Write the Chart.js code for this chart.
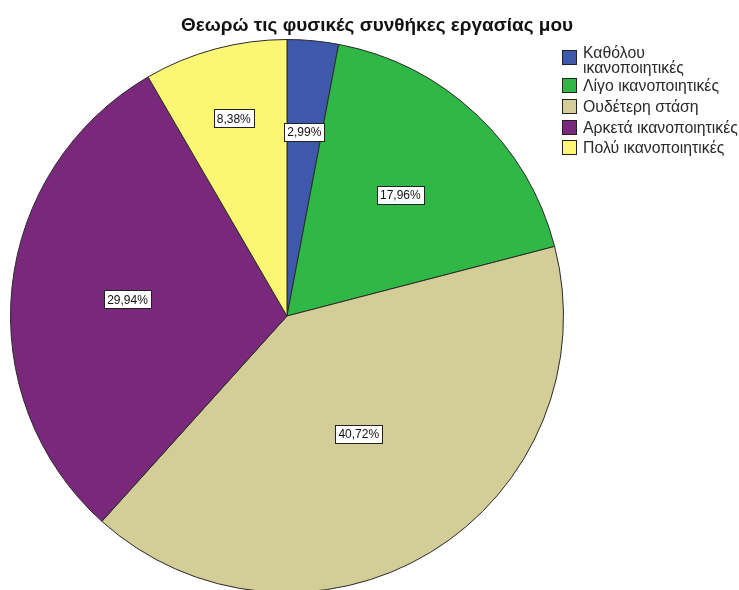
<!DOCTYPE html>
<html>
<head>
<meta charset="utf-8">
<script src="https://cdn.jsdelivr.net/npm/chart.js@4"></script>
<style>
  html, body { margin: 0; padding: 0; background: #fff; overflow: hidden; }
  #wrap { width: 739px; height: 600px; }
</style>
</head>
<body>
<div id="wrap"><canvas id="c" width="739" height="600"></canvas></div>
<script>
const title = 'Θεωρώ τις φυσικές συνθήκες εργασίας μου';
const categories = ['Καθόλου ικανοποιητικές', 'Λίγο ικανοποιητικές', 'Ουδέτερη στάση', 'Αρκετά ικανοποιητικές', 'Πολύ ικανοποιητικές'];
const legendLines = [['Καθόλου', 'ικανοποιητικές'], ['Λίγο ικανοποιητικές'], ['Ουδέτερη στάση'], ['Αρκετά ικανοποιητικές'], ['Πολύ ικανοποιητικές']];
const percents = [2.99, 17.96, 40.72, 29.94, 8.38];
const colors = ['#3e58ac', '#2fb846', '#d3ce97', '#79287b', '#fbf774'];

// label distance from centre, as a fraction of radius (SPSS places them unevenly)
const labelRadius = [0.67, 0.6, 0.5, 0.58, 0.74];

const extras = {
  id: 'extras',
  afterDraw(chart) {
    const ctx = chart.ctx;
    ctx.save();
    // title
    ctx.fillStyle = '#111';
    ctx.font = 'bold 19px "Liberation Sans", Arial, sans-serif';
    ctx.textAlign = 'center';
    ctx.textBaseline = 'middle';
    ctx.fillText(title, 377, 26, 392);

    // percent labels
    ctx.font = '12px "Liberation Sans", Arial, sans-serif';
    const meta = chart.getDatasetMeta(0);
    meta.data.forEach((arc, i) => {
      const p = arc.getProps(['x', 'y', 'startAngle', 'endAngle', 'outerRadius'], true);
      const a = (p.startAngle + p.endAngle) / 2;
      const r = p.outerRadius * labelRadius[i];
      const x = p.x + Math.cos(a) * r;
      const y = p.y + Math.sin(a) * r;
      const txt = percents[i].toFixed(2).replace('.', ',') + '%';
      const w = Math.round(ctx.measureText(txt).width + 6);
      const h = 18;
      const bx = Math.round(x - w / 2) + 0.5, by = Math.round(y - h / 2) + 0.5;
      ctx.fillStyle = '#fff';
      ctx.fillRect(bx, by, w, h);
      ctx.strokeStyle = '#222';
      ctx.lineWidth = 1;
      ctx.strokeRect(bx, by, w, h);
      ctx.fillStyle = '#111';
      ctx.textAlign = 'center';
      ctx.fillText(txt, x, y + 1);
    });

    // legend
    ctx.font = '15.8px "Liberation Sans", Arial, sans-serif';
    ctx.textAlign = 'left';
    const boxTops = [50, 78, 99, 120, 140];
    legendLines.forEach((lines, i) => {
      const t = boxTops[i];
      ctx.fillStyle = colors[i];
      ctx.fillRect(562.5, t + 0.5, 14, 14);
      ctx.strokeStyle = '#222';
      ctx.strokeRect(562.5, t + 0.5, 14, 14);
      ctx.fillStyle = '#2a2a2a';
      const first = lines.length > 1 ? t + 4 : t + 9;
      lines.forEach((ln, j) => ctx.fillText(ln, 583, first + j * 15));
    });
    ctx.restore();
  }
};

new Chart(document.getElementById('c'), {
  type: 'pie',
  data: {
    labels: categories,
    datasets: [{ data: percents, backgroundColor: colors, borderColor: '#2a2a2a', borderWidth: 1 }]
  },
  options: {
    responsive: false,
    animation: false,
    layout: { padding: { left: 10, right: 175, top: 39, bottom: 7 } },
    plugins: { legend: { display: false }, tooltip: { enabled: false } }
  },
  plugins: [extras]
});
</script>
</body>
</html>
